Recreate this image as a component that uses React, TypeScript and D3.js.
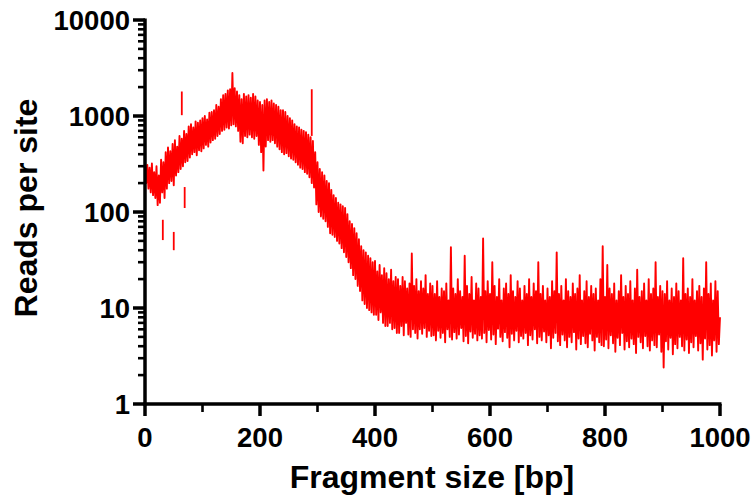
import React from 'react';
import * as d3 from 'd3';

// ---- data ----
const X_MAJOR_TICKS = [0, 200, 400, 600, 800, 1000];
const X_MINOR_TICKS = [100, 300, 500, 700, 900];
const Y_MAJOR_TICKS = [1, 10, 100, 1000, 10000];
const Y_TICK_LABELS = ['1', '10', '100', '1000', '10000'];
const X_TITLE = 'Fragment size [bp]';
const Y_TITLE = 'Reads per site';

// Fragment size runs 0..1000 bp in steps of 2 bp
const fragmentSize = d3.range(0, 1001, 2);

// Reads per site, one value every 2 bp (noisy band)
const readsPerSite = [
  330, 200, 310, 175, 290, 160, 320, 150, 260, 140,
  300, 118, 240, 125, 350, 160, 330, 140, 420, 175,
  470, 200, 430, 210, 510, 190, 560, 240, 480, 260,
  620, 280, 580, 300, 700, 330, 650, 340, 780, 370,
  820, 400, 760, 420, 880, 390, 850, 440, 900, 430,
  950, 460, 1000, 500, 920, 480, 1080, 530, 1100, 560,
  1150, 580, 1300, 620, 1250, 650, 1500, 700, 1650, 720,
  1700, 760, 1850, 740, 1900, 800, 2800, 820, 1950, 780,
  1800, 700, 1650, 540, 1500, 520, 1700, 620, 1600, 600,
  1650, 640, 1550, 600, 1700, 580, 1600, 620, 1450, 500,
  1400, 420, 1300, 270, 1450, 480, 1500, 560, 1400, 540,
  1450, 560, 1350, 520, 1300, 480, 1250, 450, 1150, 420,
  1150, 400, 1100, 410, 1000, 380, 950, 360, 900, 350,
  820, 330, 780, 310, 760, 290, 720, 280, 700, 260,
  680, 250, 640, 230, 600, 200, 550, 180, 420, 120,
  330, 100, 280, 90, 260, 85, 240, 80, 210, 70,
  200, 60, 170, 58, 150, 55, 140, 50, 125, 47,
  120, 42, 115, 38, 110, 34, 95, 30, 80, 26,
  75, 22, 68, 20, 60, 17, 52, 15, 44, 12,
  40, 11, 38, 10, 35, 9.5, 33, 9, 30, 8.5,
  31, 8.5, 24, 7.5, 28, 9, 22, 7, 26, 6.5,
  23, 6.5, 20, 7, 25, 6, 19, 6.2, 21, 5.5,
  20, 5.5, 17, 6.5, 21, 5.2, 19, 7, 16, 5.3,
  18, 5, 37, 6, 17, 5.5, 20, 4.8, 15, 6,
  19, 5.4, 16, 6.2, 22, 5, 14, 5.8, 18, 5.1,
  17, 5.2, 14, 4.6, 19, 5.8, 13, 4.9, 16, 5.5,
  15, 4.4, 18, 6, 12, 5, 43, 4.7, 16, 5.6,
  14, 4.8, 20, 5.3, 15, 6.2, 13, 4.5, 35, 5.1,
  17, 4.3, 14, 5.7, 21, 4.9, 12, 5.4, 18, 4.6,
  16, 5.2, 13, 4.8, 53, 5.5, 15, 4.4, 19, 5.9,
  14, 4.7, 30, 5.3, 17, 4.2, 13, 6.1, 20, 5,
  12, 4.5, 16, 5.6, 18, 4.9, 14, 3.9, 22, 5.4,
  15, 4.6, 13, 5.8, 19, 4.4, 16, 5.1, 12, 4.8,
  17, 5.5, 14, 4.1, 20, 5.2, 13, 4.7, 18, 6,
  15, 4.3, 30, 5, 14, 4.6, 17, 5.7, 12, 4.4,
  16, 5.2, 13, 3.8, 19, 4.9, 15, 5.5, 38, 4.5,
  14, 4.1, 17, 5.3, 12, 4.6, 20, 3.9, 15, 5,
  13, 4.4, 18, 5.6, 14, 3.7, 16, 4.8, 22, 4.2,
  12, 5.1, 15, 4.3, 19, 3.9, 13, 5.4, 17, 4.6,
  14, 3.6, 16, 5, 12, 4.4, 20, 4.1, 44, 4.0,
  13, 4.7, 28, 3.8, 16, 5.2, 14, 4.3, 18, 3.5,
  12, 4.9, 15, 4.1, 22, 5.5, 13, 3.7, 17, 4.5,
  14, 3.9, 19, 4.8, 12, 4.2, 16, 3.4, 25, 5,
  13, 4.4, 15, 3.8, 18, 5.1, 12, 4, 20, 3.6,
  14, 4.6, 16, 4.1, 30, 3.9, 13, 5.3, 17, 3.5,
  15, 2.4, 14, 4.5, 19, 3.7, 12, 4.9, 16, 3.3,
  13, 4.2, 18, 3.8, 15, 5, 12, 4, 33, 3.6,
  14, 4.7, 16, 3.4, 13, 4.4, 20, 3.9, 12, 5.1,
  15, 3.6, 17, 4.3, 13, 2.9, 16, 4.8, 30, 3.7,
  14, 4.1, 18, 3.2, 12, 4.6, 19, 3.5, 15, 4.2,
  8,
];

// Isolated spikes, not joined to the main trace
const spikeBp = [31, 50, 64, 69, 290];
const spikeFrom = [83, 62, 1800, 182, 1900];
const spikeTo = [51, 40, 1020, 110, 620];

const W = 756;
const H = 500;
const FONT = "'Liberation Sans', Arial, Helvetica, sans-serif";

export default function App() {
  const x = d3.scaleLinear().domain([0, 1000]).range([145, 720]);
  const y = d3.scaleLog().domain([1, 10000]).range([404, 20]);

  const line = d3
    .line<number>()
    .x((_, i) => x(fragmentSize[i]))
    .y((d) => y(d));

  const yMinor: number[] = [];
  for (let e = 0; e < 4; e++) {
    for (let m = 2; m <= 9; m++) yMinor.push(m * Math.pow(10, e));
  }

  const axisW = 3.5;

  return (
    <svg
      width={W}
      height={H}
      style={{ position: 'fixed', left: 0, top: 0, background: '#fff' }}
    >
      <rect x={0} y={0} width={W} height={H} fill="#fff" />
      {/* data */}
      <path
        d={line(readsPerSite) || ''}
        fill="none"
        stroke="#ff0000"
        strokeWidth={1.9}
        strokeLinejoin="round"
      />
      {spikeBp.map((bp, i) => (
        <line
          key={'s' + i}
          x1={x(bp)}
          x2={x(bp)}
          y1={y(spikeFrom[i])}
          y2={y(spikeTo[i])}
          stroke="#ff0000"
          strokeWidth={1.8}
        />
      ))}

      {/* y axis */}
      <line x1={x(0)} x2={x(0)} y1={y(10000) - 1.5} y2={y(1) + 1.5} stroke="#000" strokeWidth={axisW} />
      {yMinor.map((v) => (
        <line key={'ym' + v} x1={x(0) - 7} x2={x(0)} y1={y(v)} y2={y(v)} stroke="#000" strokeWidth={2.6} />
      ))}
      {Y_MAJOR_TICKS.map((v, i) => (
        <g key={'y' + v}>
          <line x1={x(0) - 12} x2={x(0)} y1={y(v)} y2={y(v)} stroke="#000" strokeWidth={axisW} />
          <text
            x={130}
            y={y(v) + 10}
            textAnchor="end"
            fontFamily={FONT}
            fontWeight="bold"
            fontSize={27.5}
            fill="#000"
          >
            {Y_TICK_LABELS[i]}
          </text>
        </g>
      ))}

      {/* x axis */}
      <line x1={x(0) - 1.5} x2={x(1000) + 1.5} y1={y(1)} y2={y(1)} stroke="#000" strokeWidth={axisW} />
      {X_MINOR_TICKS.map((v) => (
        <line key={'xm' + v} x1={x(v)} x2={x(v)} y1={y(1)} y2={y(1) + 8} stroke="#000" strokeWidth={2.6} />
      ))}
      {X_MAJOR_TICKS.map((v) => (
        <g key={'x' + v}>
          <line x1={x(v)} x2={x(v)} y1={y(1)} y2={y(1) + 12} stroke="#000" strokeWidth={axisW} />
          <text
            x={x(v)}
            y={447}
            textAnchor="middle"
            fontFamily={FONT}
            fontWeight="bold"
            fontSize={27.5}
            fill="#000"
          >
            {v}
          </text>
        </g>
      ))}

      {/* titles */}
      <text
        x={432}
        y={488}
        textAnchor="middle"
        fontFamily={FONT}
        fontWeight="bold"
        fontSize={32}
        fill="#000"
      >
        {X_TITLE}
      </text>
      <text
        transform={`translate(37, 208) rotate(-90)`}
        textAnchor="middle"
        fontFamily={FONT}
        fontWeight="bold"
        fontSize={32}
        fill="#000"
      >
        {Y_TITLE}
      </text>
    </svg>
  );
}
